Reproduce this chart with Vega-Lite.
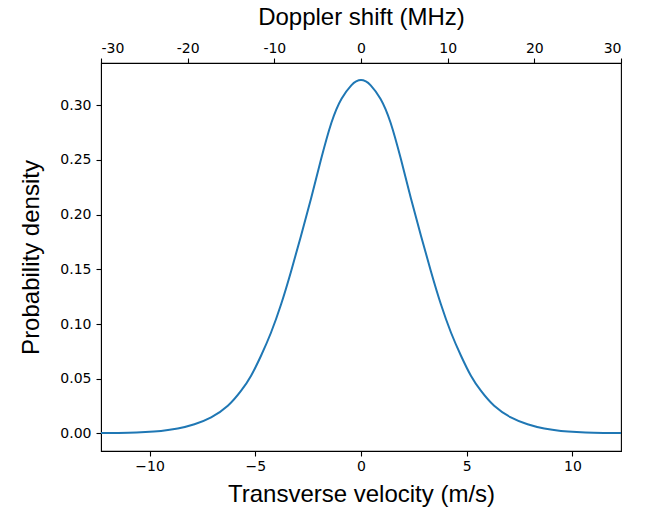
{
  "$schema": "https://vega.github.io/schema/vega-lite/v6.json",
  "width": 520,
  "height": 388,
  "autosize": "none",
  "padding": {"left": 101, "top": 63, "right": 39, "bottom": 61},
  "background": "white",
  "datasets": {
    "curve": [
      {"v": -12.3, "density": 0.0003}, {"v": -11.7, "density": 0.0004}, {"v": -11.0, "density": 0.0006},
      {"v": -10.2, "density": 0.0012}, {"v": -9.46, "density": 0.0022}, {"v": -8.67, "density": 0.0044},
      {"v": -7.88, "density": 0.0083}, {"v": -7.09, "density": 0.0146}, {"v": -6.3, "density": 0.0252},
      {"v": -5.67, "density": 0.0390}, {"v": -5.2, "density": 0.0527}, {"v": -4.73, "density": 0.0710},
      {"v": -4.26, "density": 0.0920}, {"v": -3.78, "density": 0.1180}, {"v": -3.31, "density": 0.1480},
      {"v": -2.84, "density": 0.1805}, {"v": -2.36, "density": 0.2150}, {"v": -1.89, "density": 0.2505},
      {"v": -1.4, "density": 0.2840}, {"v": -0.92, "density": 0.3060}, {"v": -0.46, "density": 0.3182},
      {"v": -0.23, "density": 0.3218}, {"v": 0.0, "density": 0.3230}, {"v": 0.23, "density": 0.3218},
      {"v": 0.46, "density": 0.3182}, {"v": 0.92, "density": 0.3060}, {"v": 1.4, "density": 0.2840},
      {"v": 1.89, "density": 0.2505}, {"v": 2.36, "density": 0.2150}, {"v": 2.84, "density": 0.1805},
      {"v": 3.31, "density": 0.1480}, {"v": 3.78, "density": 0.1180}, {"v": 4.26, "density": 0.0920},
      {"v": 4.73, "density": 0.0710}, {"v": 5.2, "density": 0.0527}, {"v": 5.67, "density": 0.0390},
      {"v": 6.3, "density": 0.0252}, {"v": 7.09, "density": 0.0146}, {"v": 7.88, "density": 0.0083},
      {"v": 8.67, "density": 0.0044}, {"v": 9.46, "density": 0.0022}, {"v": 10.2, "density": 0.0012},
      {"v": 11.0, "density": 0.0006}, {"v": 11.7, "density": 0.0004}, {"v": 12.3, "density": 0.0003}
    ],
    "top": [{"mhz": -30}, {"mhz": 30}]
  },
  "config": {
    "view": {"stroke": "#000000", "strokeWidth": 1.1},
    "axis": {
      "grid": false,
      "domainColor": "#000000",
      "tickColor": "#000000",
      "tickSize": 5,
      "tickWidth": 1.1,
      "labelColor": "#000000",
      "labelFont": "DejaVu Sans",
      "labelFontSize": 14,
      "titleColor": "#000000",
      "titleFont": "Liberation Sans",
      "titleFontSize": 24,
      "titleFontWeight": "normal"
    }
  },
  "layer": [
    {
      "data": {"name": "curve"},
      "mark": {"type": "line", "color": "#1f77b4", "strokeWidth": 2, "interpolate": "natural"},
      "encoding": {
        "x": {
          "field": "v",
          "type": "quantitative",
          "scale": {"domain": [-12.3, 12.3], "nice": false, "zero": false},
          "axis": {
            "orient": "bottom",
            "title": "Transverse velocity (m/s)",
            "values": [-10, -5, 0, 5, 10],
            "format": "d",
            "labelPadding": 3,
            "titlePadding": 9
          }
        },
        "y": {
          "field": "density",
          "type": "quantitative",
          "scale": {"domain": [-0.0161, 0.3386], "nice": false, "zero": false},
          "axis": {
            "title": "Probability density",
            "values": [0, 0.05, 0.1, 0.15, 0.2, 0.25, 0.3],
            "format": ".2f",
            "labelPadding": 5,
            "titlePadding": 16
          }
        }
      }
    },
    {
      "data": {"name": "top"},
      "mark": {"type": "rule", "opacity": 0},
      "encoding": {
        "x": {
          "field": "mhz",
          "type": "quantitative",
          "scale": {"domain": [-30, 30], "nice": false, "zero": false},
          "axis": {
            "orient": "top",
            "title": "Doppler shift (MHz)",
            "values": [-30, -20, -10, 0, 10, 20, 30],
            "labelExpr": "'' + datum.value",
            "labelPadding": 3,
            "titlePadding": 12
          }
        }
      }
    }
  ],
  "resolve": {"scale": {"x": "independent"}, "axis": {"x": "independent"}}
}
